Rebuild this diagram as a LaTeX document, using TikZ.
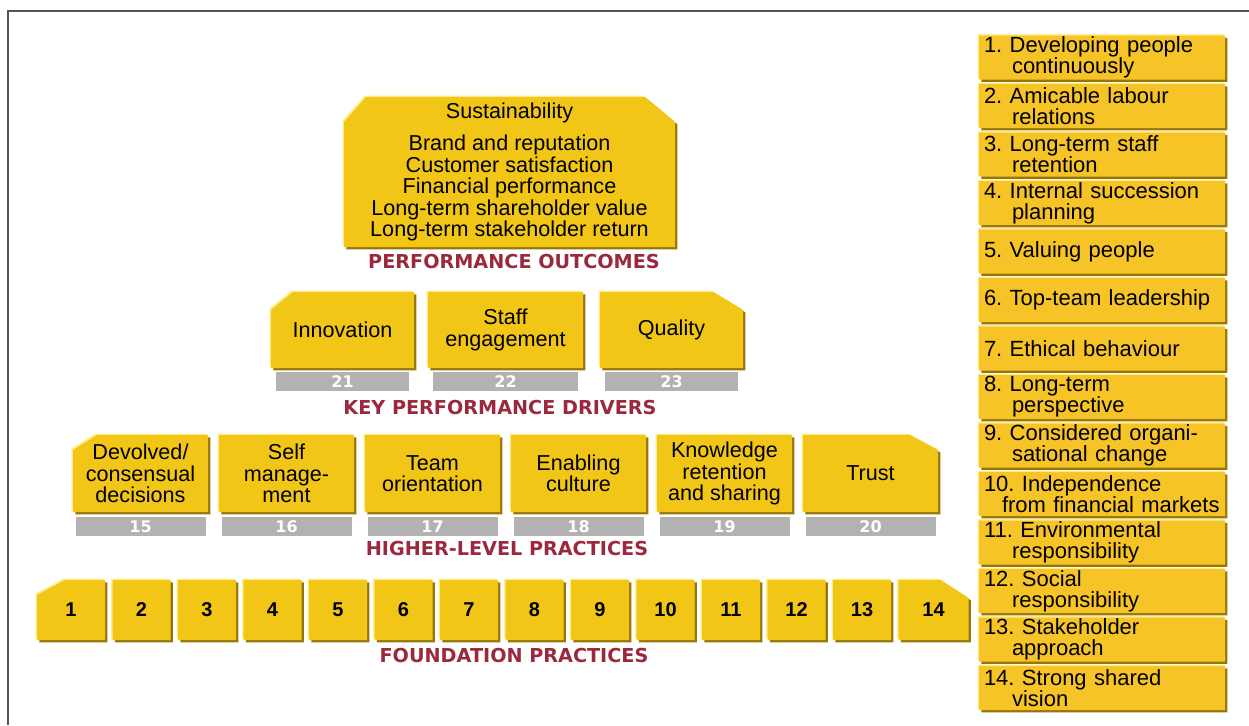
\documentclass[tikz,border=0pt]{standalone}
\usepackage{fontspec}
\setmainfont{Liberation Sans}
\newfontfamily\capfont{DejaVu Sans}
\usetikzlibrary{positioning, shadows}

\definecolor{tilegold}{RGB}{241,198,22}
\definecolor{listgold}{RGB}{246,196,38}
\definecolor{tiledark}{RGB}{150,118,10}
\definecolor{tilelight}{RGB}{255,236,140}
\definecolor{bargray}{RGB}{178,178,178}
\definecolor{capred}{RGB}{155,40,60}
\definecolor{framegray}{RGB}{85,85,85}

\frenchspacing
\hyphenpenalty=10000

% second line of a list entry, indented under the text
\newcommand{\subline}[1][14pt]{\\\hspace*{#1}}

% rectangle with the upper left and/or upper right corner cut off
\makeatletter
\newdimen\tileL \newdimen\tileR \newdimen\tileB \newdimen\tileT
\newdimen\cutwx \newdimen\cutwy \newdimen\cutex \newdimen\cutey
\pgfkeys{/pgf/cut west x/.initial=0pt, /pgf/cut west y/.initial=0pt,
         /pgf/cut east x/.initial=0pt, /pgf/cut east y/.initial=0pt}
\pgfdeclareshape{tile box}{%
  \inheritsavedanchors[from=rectangle]%
  \inheritanchorborder[from=rectangle]%
  \inheritanchor[from=rectangle]{center}%
  \inheritanchor[from=rectangle]{north}%
  \inheritanchor[from=rectangle]{south}%
  \inheritanchor[from=rectangle]{east}%
  \inheritanchor[from=rectangle]{west}%
  \inheritanchor[from=rectangle]{north east}%
  \inheritanchor[from=rectangle]{north west}%
  \inheritanchor[from=rectangle]{south east}%
  \inheritanchor[from=rectangle]{south west}%
  \inheritanchor[from=rectangle]{base}%
  \inheritanchor[from=rectangle]{mid}%
  \inheritanchor[from=rectangle]{text}%
  \backgroundpath{%
    \southwest \tileL=\pgf@x \tileB=\pgf@y
    \northeast \tileR=\pgf@x \tileT=\pgf@y
    \pgfmathsetlength\cutwx{\pgfkeysvalueof{/pgf/cut west x}}%
    \pgfmathsetlength\cutwy{\pgfkeysvalueof{/pgf/cut west y}}%
    \pgfmathsetlength\cutex{\pgfkeysvalueof{/pgf/cut east x}}%
    \pgfmathsetlength\cutey{\pgfkeysvalueof{/pgf/cut east y}}%
    \pgfpathmoveto{\pgfqpoint{\tileL}{\tileB}}%
    \pgfpathlineto{\pgfqpoint{\tileL}{\dimexpr\tileT-\cutwy\relax}}%
    \pgfpathlineto{\pgfqpoint{\dimexpr\tileL+\cutwx\relax}{\tileT}}%
    \pgfpathlineto{\pgfqpoint{\dimexpr\tileR-\cutex\relax}{\tileT}}%
    \pgfpathlineto{\pgfqpoint{\tileR}{\dimexpr\tileT-\cutey\relax}}%
    \pgfpathlineto{\pgfqpoint{\tileR}{\tileB}}%
    \pgfpathclose
  }%
}
\makeatother

\begin{document}
\begin{tikzpicture}[x=0.5pt, y=-0.5pt,
    tile/.style={shape=tile box, fill=tilegold, inner sep=1pt, outer sep=0pt, align=center,
        font=\fontsize{10.8}{10.7}\selectfont,
        general shadow={fill=tilelight, shadow xshift=-0.7pt, shadow yshift=0.7pt},
        general shadow={fill=tiledark, shadow xshift=1.2pt, shadow yshift=-1.2pt}},
    plain/.style={},
    cutl/.style={cut west x=12pt, cut west y=7.5pt},
    cutr/.style={cut east x=14pt, cut east y=7.5pt},
    bar/.style={fill=bargray, inner sep=0pt, minimum height=9.5pt, text=white,
        font=\capfont\bfseries\fontsize{8}{8}\selectfont},
    caption/.style={text=capred, inner sep=0pt,
        font=\capfont\bfseries\fontsize{9.6}{10}\selectfont},
    entry/.style={tile, fill=listgold, align=left, inner xsep=2.5pt, inner ysep=0pt,
        text width=118pt, minimum height=22pt,
        font=\fontsize{11}{10.5}\selectfont}]
  \useasboundingbox (0,0) rectangle (1249,725);
  \draw[framegray, line width=1pt] (8,725) -- (8,11) -- (1249,11);

  % performance outcomes
  \node[tile, cut west x=11pt, cut west y=12.5pt, cut east x=15pt, cut east y=12.5pt,
        minimum width=165.5pt, minimum height=75pt] (outcomes) at (509.5,172)
    {Sustainability\\[5.5pt]
     Brand and reputation\\Customer satisfaction\\Financial performance\\
     Long-term shareholder value\\Long-term stakeholder return};
  \node[caption] (capout) at (514,262) {PERFORMANCE OUTCOMES};

  % key performance drivers
  \node[tile, cut west x=11pt, cut west y=9pt, minimum width=71.5pt, minimum height=38pt] (d21) at (342.5,330) {Innovation};
  \node[tile, minimum width=77.5pt, minimum height=38pt, right=7pt of d21] (d22) {Staff\\engagement};
  \node[tile, cut east x=15pt, cut east y=9pt, minimum width=71.5pt, minimum height=38pt, right=8.5pt of d22] (d23) {Quality};
  \foreach \x/\w in {21/66.5pt, 22/72.5pt, 23/66.5pt}
    \node[bar, minimum width=\w, below=2pt of d\x] (b\x) {\x};
  \node[caption] (capkey) at (500,407) {KEY PERFORMANCE DRIVERS};

  % higher-level practices
  \node[tile, cutl, minimum width=67.5pt, minimum height=38.5pt] (h15) at (140.5,473.5)
    {Devolved/\\consensual\\decisions};
  \foreach \x/\s/\t [evaluate = \x as \xp using int(\x-1)] in
      {16/plain/{Self\\manage-\\ment}, 17/plain/{Team\\orientation},
       18/plain/{Enabling\\culture}, 19/plain/{Knowledge\\retention\\and sharing},
       20/cutr/{Trust}}
    \node[tile, \s, minimum width=67.5pt, minimum height=38.5pt, right=5.5pt of h\xp] (h\x) {\t};
  \foreach \x in {15,...,20}
    \node[bar, minimum width=65pt, below=2.5pt of h\x] (b\x) {\x};
  \node[caption] (caphigh) at (507,548) {HIGHER-LEVEL PRACTICES};

  % foundation practices
  \node[tile, cut west x=14pt, cut west y=7.5pt, font=\bfseries, minimum width=34pt, minimum height=30pt] (f1) at (71,610) {1};
  \foreach \x [evaluate = \x as \xp using int(\x-1)] in {2,...,13}
    \node[tile, font=\bfseries, minimum width=29pt, minimum height=30pt, right=3.75pt of f\xp] (f\x) {\x};
  \node[tile, cut east x=14pt, cut east y=9pt, font=\bfseries, minimum width=35pt, minimum height=30pt, right=3.75pt of f13] (f14) {14};
  \node[caption] (capfound) at (514,655) {FOUNDATION PRACTICES};

  % list of the foundation practices
  \node[entry] (p1) at (1102,57.5) {1. Developing people\subline continuously};
  \foreach \x/\t [evaluate = \x as \xp using int(\x-1)] in
      {2/{2. Amicable labour\subline relations},
       3/{3. Long-term staff\subline retention},
       4/{4. Internal succession\subline planning},
       5/{5. Valuing people},
       6/{6. Top-team leadership},
       7/{7. Ethical behaviour},
       8/{8. Long-term\subline perspective},
       9/{9. Considered organi-\subline sational change},
       10/{10. Independence\subline[9pt]from financial markets},
       11/{11. Environmental\subline responsibility},
       12/{12. Social\subline responsibility},
       13/{13. Stakeholder\subline approach},
       14/{14. Strong shared\subline vision}}
    \node[entry, below=2.25pt of p\xp] (p\x) {\t};
\end{tikzpicture}
\end{document}
